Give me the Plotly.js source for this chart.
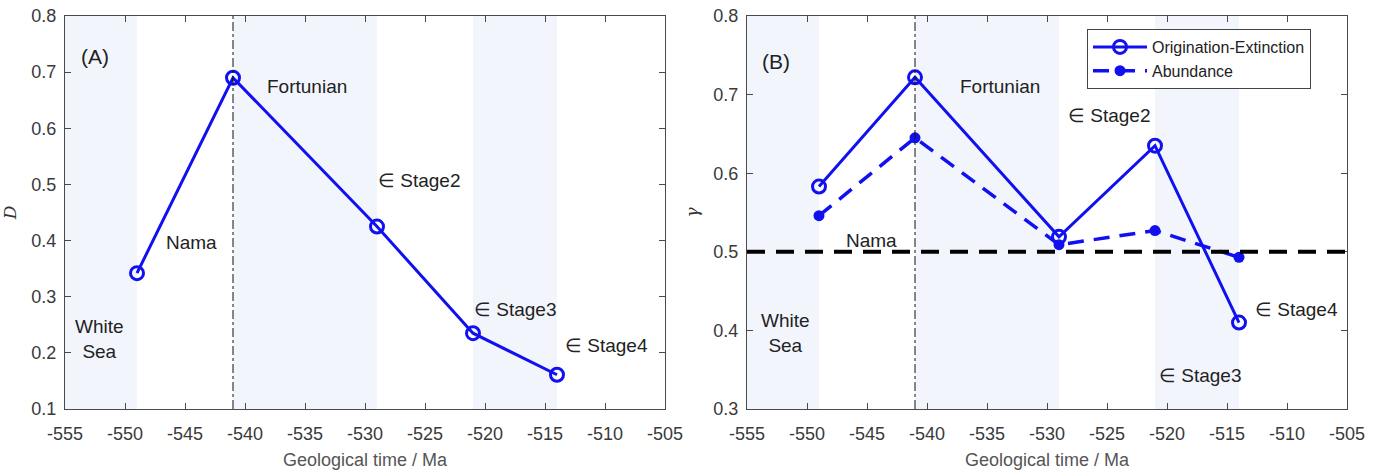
<!DOCTYPE html>
<html><head><meta charset="utf-8">
<script src="https://cdn.plot.ly/plotly-3.0.1.min.js"></script>
<style>html,body{margin:0;padding:0;background:#fff}#chart{width:1383px;height:474px}</style>
</head><body><div id="chart"></div>
<script>
// ---- data ----
const timeMa = [-549, -541, -529, -521, -514];
const diversityD = [0.342, 0.690, 0.425, 0.235, 0.161];
const gammaOrigExt = [0.583, 0.722, 0.519, 0.635, 0.410];
const gammaAbundance = [0.546, 0.645, 0.509, 0.527, 0.493];
const xTickVals = [-555, -550, -545, -540, -535, -530, -525, -520, -515, -510, -505];
const xTickText = ["-555", "-550", "-545", "-540", "-535", "-530", "-525", "-520", "-515", "-510", "-505"];
const yTickValsA = [0.1, 0.2, 0.3, 0.4, 0.5, 0.6, 0.7, 0.8];
const yTickValsB = [0.3, 0.4, 0.5, 0.6, 0.7, 0.8];
const bands = [[-555, -549], [-541, -529], [-521, -514]];
const boundaryMa = -541;
const gammaRef = 0.5;
const labelsA = [
  {t: "(A)", x: -552.5, y: 0.727},
  {t: "Fortunian", x: -534.8, y: 0.674},
  {t: "∈ Stage2", x: -525.5, y: 0.507},
  {t: "Nama", x: -544.5, y: 0.396},
  {t: "∈ Stage3", x: -517.5, y: 0.278},
  {t: "∈ Stage4", x: -509.9, y: 0.213},
  {t: "White<br>Sea", x: -552.1, y: 0.224}
];
const labelsB = [
  {t: "(B)", x: -552.6, y: 0.742},
  {t: "Fortunian", x: -533.9, y: 0.71},
  {t: "∈ Stage2", x: -524.8, y: 0.674},
  {t: "Nama", x: -544.6, y: 0.514},
  {t: "White<br>Sea", x: -551.8, y: 0.397},
  {t: "∈ Stage4", x: -509.2, y: 0.426},
  {t: "∈ Stage3", x: -517.2, y: 0.343}
];

// ---- styling ----
const W = 1383, H = 474;
const blue = '#1010f0';
const axColor = '#4a4a4a';
const fontFam = '"Liberation Sans", Arial, sans-serif';
const tickFont = {family: fontFam, size: 18, color: '#3a3a3a'};
const pxA = [65, 665], pxB = [747, 1347], py = [16, 409];
const yDom = [1 - py[1] / H, 1 - py[0] / H];

function xaxis(dom, anchor) {
  return {domain: [dom[0] / W, dom[1] / W], anchor: anchor, range: [-555, -505],
    tickvals: xTickVals, ticktext: xTickText, ticks: 'inside', ticklen: 6, tickcolor: axColor,
    showline: true, linecolor: axColor, linewidth: 1, mirror: 'ticks', showgrid: false, zeroline: false,
    tickfont: tickFont, ticklabelstandoff: 8,
    title: {text: 'Geological time / Ma', font: {family: fontFam, size: 18, color: '#555'}, standoff: 10}};
}
function yaxis(vals, range, anchor, title) {
  return {domain: yDom, anchor: anchor, range: range, tickvals: vals, ticktext: vals.map(v => v.toFixed(1)),
    ticks: 'inside', ticklen: 6, tickcolor: axColor, showline: true, linecolor: axColor, linewidth: 1,
    mirror: 'ticks', showgrid: false, zeroline: false, tickfont: tickFont, ticklabelstandoff: 4,
    title: {text: title, font: {family: '"DejaVu Serif", serif', size: 17, color: '#333'}, standoff: 10}};
}

const traces = [
  {x: timeMa, y: diversityD, xaxis: 'x', yaxis: 'y', mode: 'lines+markers', showlegend: false,
   line: {color: blue, width: 3}, marker: {symbol: 'circle-open', size: 13, color: blue, line: {width: 3, color: blue}}},
  {x: timeMa, y: gammaOrigExt, xaxis: 'x2', yaxis: 'y2', mode: 'lines+markers', name: 'Origination-Extinction',
   line: {color: blue, width: 3}, marker: {symbol: 'circle-open', size: 13, color: blue, line: {width: 3, color: blue}}},
  {x: timeMa, y: gammaAbundance, xaxis: 'x2', yaxis: 'y2', mode: 'lines+markers', name: 'Abundance',
   line: {color: blue, width: 3.5, dash: '16px,10px'}, marker: {symbol: 'circle', size: 11, color: blue}}
];

const shapes = [];
[['x', 'y', [0.1, 0.8]], ['x2', 'y2', [0.3, 0.8]]].forEach(([xr, yr, yrg]) => {
  bands.forEach(b => shapes.push({type: 'rect', xref: xr, yref: yr, x0: b[0], x1: b[1], y0: yrg[0], y1: yrg[1],
    fillcolor: '#f2f6fc', line: {width: 0}, layer: 'below'}));
  shapes.push({type: 'line', xref: xr, yref: yr, x0: boundaryMa, x1: boundaryMa, y0: yrg[0], y1: yrg[1],
    line: {color: '#111', width: 1, dash: 'dashdot'}});
});
shapes.push({type: 'line', xref: 'x2 domain', yref: 'y2', x0: 0, x1: 1, y0: gammaRef, y1: gammaRef,
  line: {color: '#000', width: 4, dash: '18px,11px'}});

const annFont = {family: fontFam, size: 19, color: '#222'};
const annotations = [];
labelsA.forEach(l => annotations.push({xref: 'x', yref: 'y', x: l.x, y: l.y, text: l.t, showarrow: false,
  font: l.t.startsWith('(') ? Object.assign({}, annFont, {size: 21}) : annFont, align: 'center'}));
labelsB.forEach(l => annotations.push({xref: 'x2', yref: 'y2', x: l.x, y: l.y, text: l.t, showarrow: false,
  font: l.t.startsWith('(') ? Object.assign({}, annFont, {size: 21}) : annFont, align: 'center'}));

const layout = {
  width: W, height: H, margin: {l: 0, r: 0, t: 0, b: 0},
  paper_bgcolor: '#fff', plot_bgcolor: '#fff',
  xaxis: xaxis(pxA, 'y'), yaxis: yaxis(yTickValsA, [0.1, 0.8], 'x', '<i>D</i>'),
  xaxis2: xaxis(pxB, 'y2'), yaxis2: yaxis(yTickValsB, [0.3, 0.8], 'x2', '<i>γ</i>'),
  shapes: shapes, annotations: annotations,
  legend: {x: 1087 / W, y: 1 - 29 / H, xanchor: 'left', yanchor: 'top', bgcolor: '#fff',
    bordercolor: '#444', borderwidth: 1, itemwidth: 54, tracegroupgap: 0,
    font: {family: fontFam, size: 16, color: '#222'}}
};
Plotly.newPlot('chart', traces, layout, {displayModeBar: false});
</script></body></html>
